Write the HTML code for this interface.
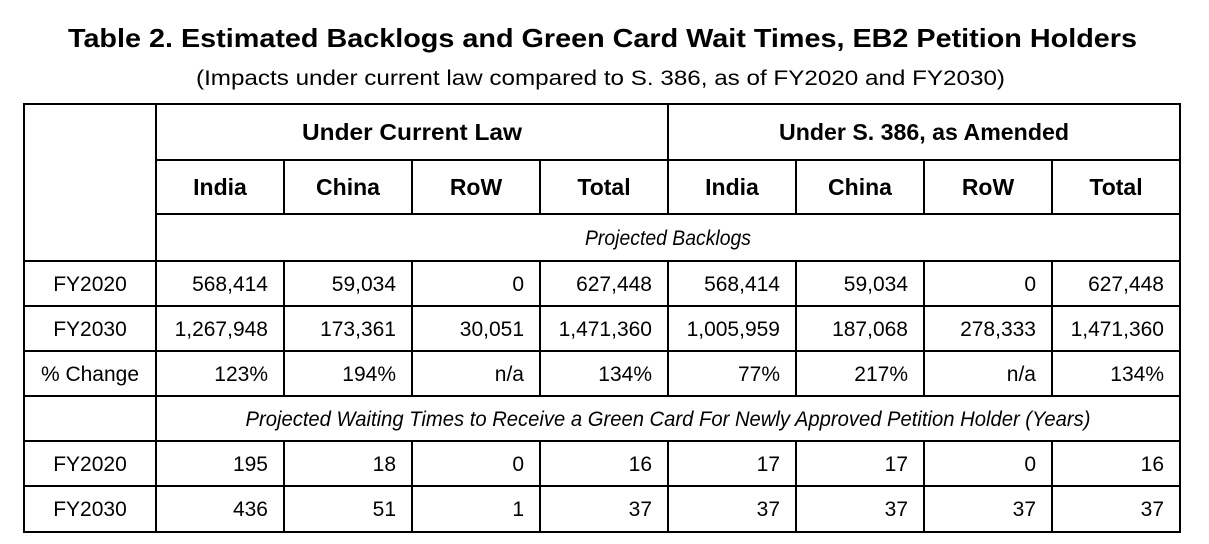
<!DOCTYPE html>
<html>
<head>
<meta charset="utf-8">
<style>
  html,body{margin:0;padding:0;background:#fff;}
  svg{display:block;}
  text{font-family:"Liberation Sans",sans-serif;fill:#000;}
  .b{font-weight:bold;}
  .i{font-style:italic;}
  .v{font-size:21px;text-anchor:end;}
  .h{font-size:23px;font-weight:bold;text-anchor:middle;}
  .l{font-size:21px;text-anchor:middle;}
</style>
</head>
<body>
<svg width="1209" height="544" viewBox="0 0 1209 544" xmlns="http://www.w3.org/2000/svg">
  <rect x="0" y="0" width="1209" height="544" fill="#fff"/>
  <!-- Titles -->
  <text x="68" y="47" font-size="26" font-weight="bold" textLength="1069" lengthAdjust="spacingAndGlyphs">Table 2. Estimated Backlogs and Green Card Wait Times, EB2 Petition Holders</text>
  <text x="196" y="85" font-size="21" textLength="809" lengthAdjust="spacingAndGlyphs">(Impacts under current law compared to S. 386, as of FY2020 and FY2030)</text>

  <!-- Grid lines -->
  <g fill="#000">
    <!-- horizontals -->
    <rect x="23" y="103" width="1158" height="2"/>
    <rect x="155" y="159" width="1026" height="2"/>
    <rect x="155" y="213" width="1026" height="2"/>
    <rect x="23" y="260" width="1158" height="2"/>
    <rect x="23" y="305" width="1158" height="2"/>
    <rect x="23" y="350" width="1158" height="2"/>
    <rect x="23" y="395" width="1158" height="2"/>
    <rect x="23" y="440" width="1158" height="2"/>
    <rect x="23" y="485" width="1158" height="2"/>
    <rect x="23" y="531" width="1158" height="2"/>
    <!-- verticals full -->
    <rect x="23" y="103" width="2" height="430"/>
    <rect x="155" y="103" width="2" height="430"/>
    <rect x="1179" y="103" width="2" height="430"/>
    <!-- main divider -->
    <rect x="667" y="103" width="2" height="112"/>
    <rect x="667" y="260" width="2" height="137"/>
    <rect x="667" y="440" width="2" height="93"/>
    <!-- column dividers -->
    <rect x="283" y="159" width="2" height="56"/>
    <rect x="411" y="159" width="2" height="56"/>
    <rect x="539" y="159" width="2" height="56"/>
    <rect x="795" y="159" width="2" height="56"/>
    <rect x="923" y="159" width="2" height="56"/>
    <rect x="1051" y="159" width="2" height="56"/>
    <rect x="283" y="260" width="2" height="137"/>
    <rect x="411" y="260" width="2" height="137"/>
    <rect x="539" y="260" width="2" height="137"/>
    <rect x="795" y="260" width="2" height="137"/>
    <rect x="923" y="260" width="2" height="137"/>
    <rect x="1051" y="260" width="2" height="137"/>
    <rect x="283" y="440" width="2" height="93"/>
    <rect x="411" y="440" width="2" height="93"/>
    <rect x="539" y="440" width="2" height="93"/>
    <rect x="795" y="440" width="2" height="93"/>
    <rect x="923" y="440" width="2" height="93"/>
    <rect x="1051" y="440" width="2" height="93"/>
  </g>

  <!-- Group headers -->
  <text class="h" x="412" y="140" textLength="220" lengthAdjust="spacingAndGlyphs">Under Current Law</text>
  <text class="h" x="924" y="140" textLength="290" lengthAdjust="spacingAndGlyphs">Under S. 386, as Amended</text>

  <!-- Column headers -->
  <text class="h" x="220" y="195">India</text>
  <text class="h" x="348" y="195">China</text>
  <text class="h" x="476" y="195">RoW</text>
  <text class="h" x="604" y="195">Total</text>
  <text class="h" x="732" y="195">India</text>
  <text class="h" x="860" y="195">China</text>
  <text class="h" x="988" y="195">RoW</text>
  <text class="h" x="1116" y="195">Total</text>

  <!-- Section labels -->
  <text class="i" x="668" y="245" font-size="21" text-anchor="middle" textLength="166" lengthAdjust="spacingAndGlyphs">Projected Backlogs</text>
  <text class="i" x="668" y="426" font-size="21" text-anchor="middle" textLength="845" lengthAdjust="spacingAndGlyphs">Projected Waiting Times to Receive a Green Card For Newly Approved Petition Holder (Years)</text>

  <!-- Row labels -->
  <text class="l" x="90" y="291">FY2020</text>
  <text class="l" x="90" y="336">FY2030</text>
  <text class="l" x="90" y="381">% Change</text>
  <text class="l" x="90" y="471">FY2020</text>
  <text class="l" x="90" y="516">FY2030</text>

  <!-- Row FY2020 backlogs -->
  <g class="v">
    <text class="v" x="268" y="291">568,414</text>
    <text class="v" x="396" y="291">59,034</text>
    <text class="v" x="524" y="291">0</text>
    <text class="v" x="652" y="291">627,448</text>
    <text class="v" x="780" y="291">568,414</text>
    <text class="v" x="908" y="291">59,034</text>
    <text class="v" x="1036" y="291">0</text>
    <text class="v" x="1164" y="291">627,448</text>

    <text class="v" x="268" y="336">1,267,948</text>
    <text class="v" x="396" y="336">173,361</text>
    <text class="v" x="524" y="336">30,051</text>
    <text class="v" x="652" y="336">1,471,360</text>
    <text class="v" x="780" y="336">1,005,959</text>
    <text class="v" x="908" y="336">187,068</text>
    <text class="v" x="1036" y="336">278,333</text>
    <text class="v" x="1164" y="336">1,471,360</text>

    <text class="v" x="268" y="381">123%</text>
    <text class="v" x="396" y="381">194%</text>
    <text class="v" x="524" y="381">n/a</text>
    <text class="v" x="652" y="381">134%</text>
    <text class="v" x="780" y="381">77%</text>
    <text class="v" x="908" y="381">217%</text>
    <text class="v" x="1036" y="381">n/a</text>
    <text class="v" x="1164" y="381">134%</text>

    <text class="v" x="268" y="471">195</text>
    <text class="v" x="396" y="471">18</text>
    <text class="v" x="524" y="471">0</text>
    <text class="v" x="652" y="471">16</text>
    <text class="v" x="780" y="471">17</text>
    <text class="v" x="908" y="471">17</text>
    <text class="v" x="1036" y="471">0</text>
    <text class="v" x="1164" y="471">16</text>

    <text class="v" x="268" y="516">436</text>
    <text class="v" x="396" y="516">51</text>
    <text class="v" x="524" y="516">1</text>
    <text class="v" x="652" y="516">37</text>
    <text class="v" x="780" y="516">37</text>
    <text class="v" x="908" y="516">37</text>
    <text class="v" x="1036" y="516">37</text>
    <text class="v" x="1164" y="516">37</text>
  </g>
</svg>
</body>
</html>
